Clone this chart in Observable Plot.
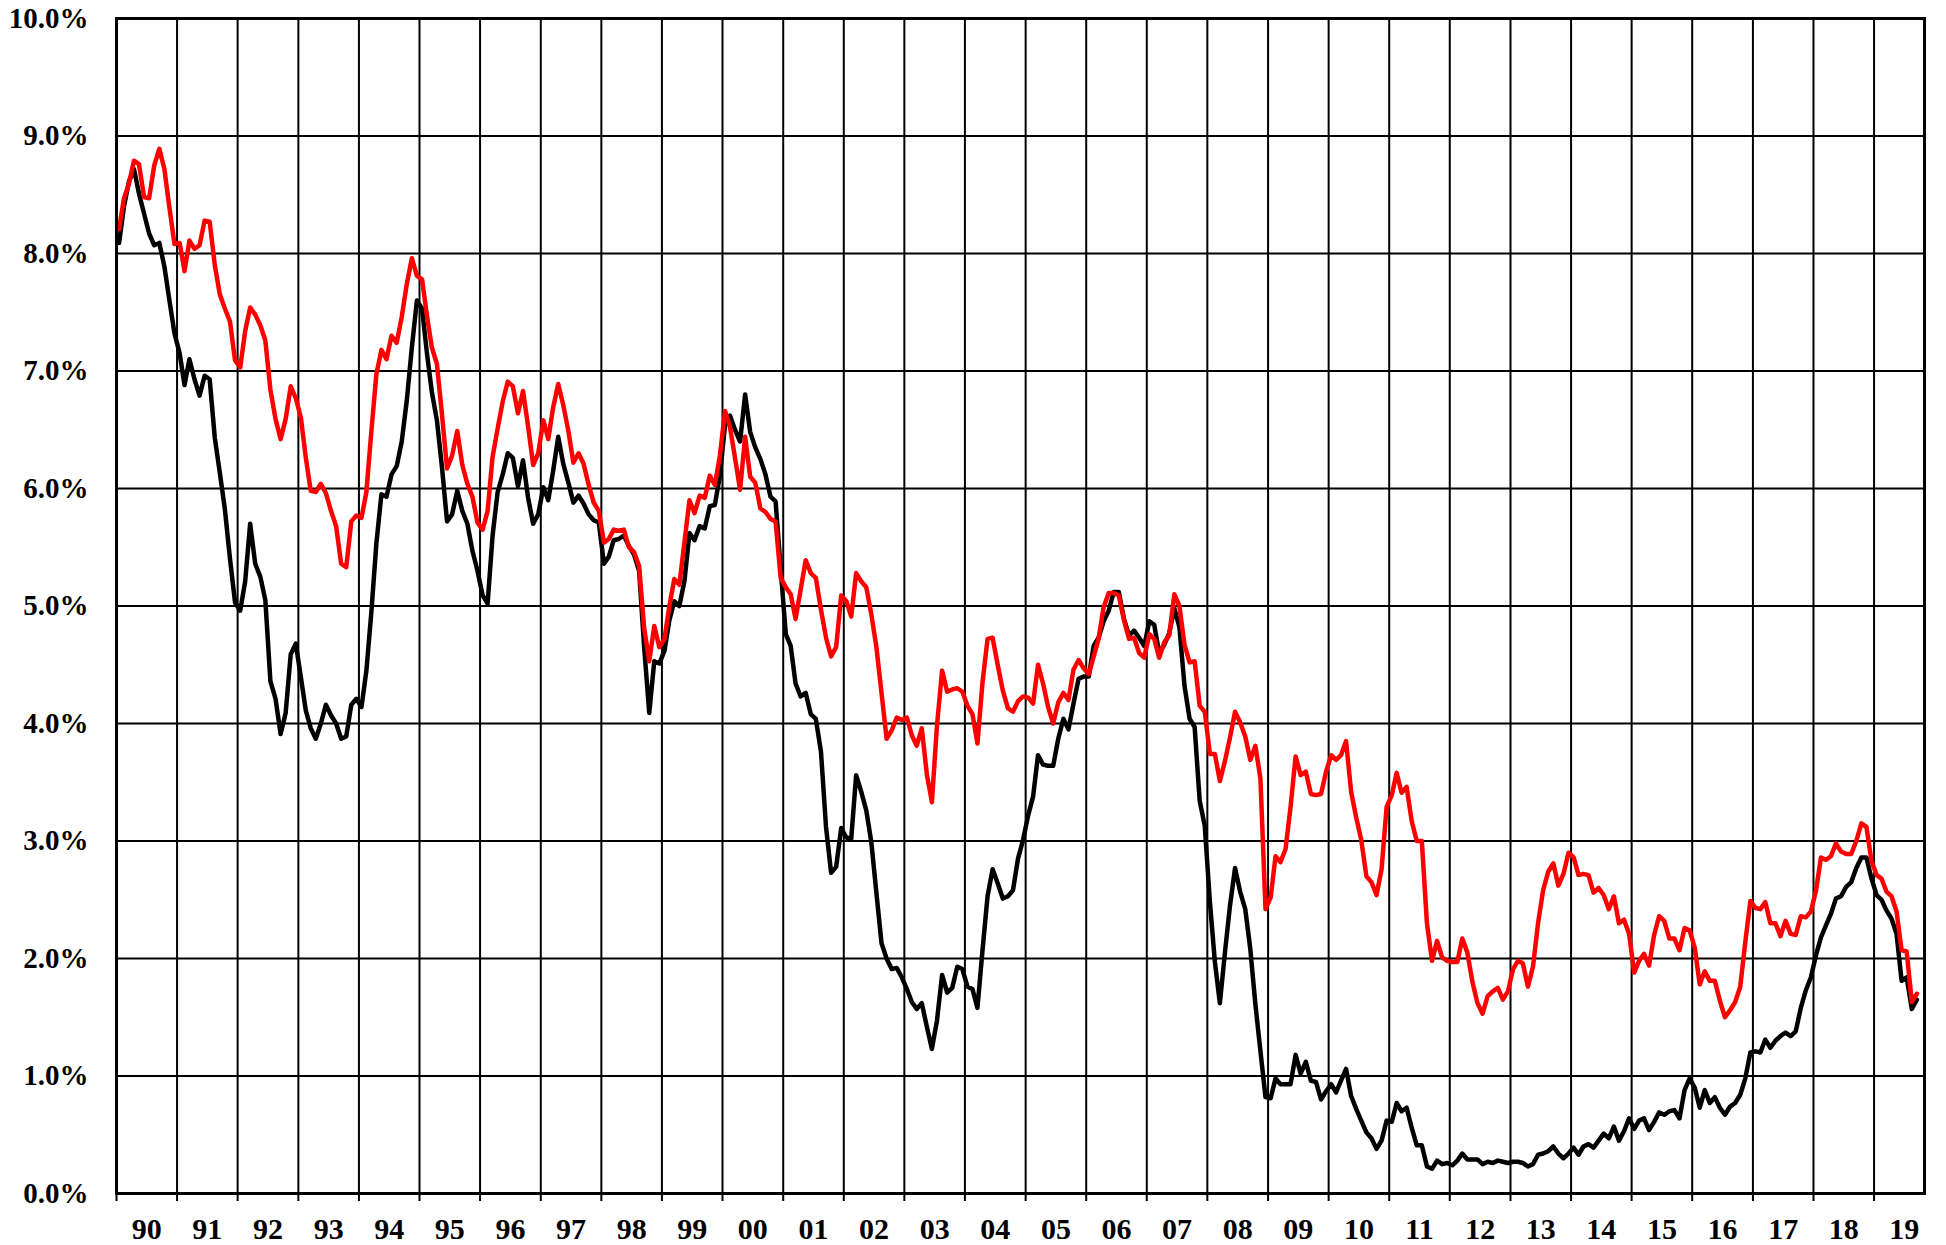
<!DOCTYPE html>
<html><head><meta charset="utf-8">
<script src="https://cdn.jsdelivr.net/npm/d3@7"></script>
<script src="https://cdn.jsdelivr.net/npm/@observablehq/plot@0.6"></script>
<style>html,body{margin:0;padding:0;background:#fff}</style>
</head><body><div id="chart"></div>
<script>
// Monthly yields (%), first value = January 1990, last = September 2019
const startMonth = "1990-01-01";
const endDomain = "2019-11-01";

// black series (2-year)
const twoYear = [
  8.09, 8.40, 8.61, 8.72, 8.51, 8.34, 8.17, 8.07, 8.09, 7.89, 7.60, 7.32,
  7.15, 6.88, 7.10, 6.93, 6.79, 6.96, 6.93, 6.43, 6.13, 5.82, 5.40, 5.03,
  4.96, 5.21, 5.70, 5.36, 5.25, 5.05, 4.36, 4.21, 3.91, 4.09, 4.59, 4.68,
  4.39, 4.11, 3.96, 3.87, 4.00, 4.16, 4.07, 4.00, 3.87, 3.89, 4.16, 4.21,
  4.14, 4.45, 4.94, 5.53, 5.95, 5.93, 6.12, 6.19, 6.40, 6.75, 7.20, 7.60,
  7.53, 7.15, 6.82, 6.58, 6.18, 5.72, 5.78, 5.98, 5.81, 5.70, 5.47, 5.30,
  5.09, 5.02, 5.60, 5.97, 6.12, 6.30, 6.26, 6.02, 6.24, 5.92, 5.70, 5.78,
  6.01, 5.90, 6.15, 6.44, 6.21, 6.05, 5.88, 5.94, 5.87, 5.78, 5.73, 5.71,
  5.36, 5.42, 5.56, 5.57, 5.60, 5.51, 5.44, 5.30, 4.65, 4.09, 4.53, 4.51,
  4.62, 4.88, 5.04, 5.00, 5.21, 5.62, 5.56, 5.68, 5.66, 5.85, 5.86, 6.11,
  6.54, 6.62, 6.50, 6.40, 6.80, 6.48, 6.35, 6.25, 6.12, 5.93, 5.89, 5.32,
  4.76, 4.66, 4.34, 4.23, 4.26, 4.08, 4.04, 3.76, 3.12, 2.73, 2.78, 3.11,
  3.03, 3.02, 3.56, 3.42, 3.26, 2.99, 2.56, 2.13, 2.00, 1.91, 1.92, 1.84,
  1.74, 1.63, 1.57, 1.62, 1.42, 1.23, 1.47, 1.86, 1.71, 1.75, 1.93, 1.91,
  1.76, 1.74, 1.58, 2.07, 2.53, 2.76, 2.64, 2.51, 2.53, 2.58, 2.85, 3.01,
  3.22, 3.38, 3.73, 3.65, 3.64, 3.64, 3.87, 4.04, 3.95, 4.17, 4.38, 4.40,
  4.40, 4.66, 4.73, 4.87, 4.96, 5.12, 5.12, 4.89, 4.75, 4.79, 4.73, 4.66,
  4.87, 4.84, 4.60, 4.67, 4.77, 4.98, 4.82, 4.32, 4.04, 3.97, 3.34, 3.13,
  2.48, 1.97, 1.62, 2.05, 2.45, 2.77, 2.57, 2.42, 2.08, 1.61, 1.21, 0.82,
  0.81, 0.98, 0.93, 0.93, 0.93, 1.18, 1.02, 1.12, 0.96, 0.95, 0.80, 0.87,
  0.93, 0.86, 0.96, 1.06, 0.83, 0.72, 0.62, 0.52, 0.47, 0.38, 0.45, 0.62,
  0.61, 0.77, 0.70, 0.73, 0.56, 0.41, 0.41, 0.23, 0.21, 0.28, 0.25, 0.26,
  0.24, 0.28, 0.34, 0.29, 0.29, 0.29, 0.25, 0.27, 0.26, 0.28, 0.27, 0.26,
  0.27, 0.27, 0.26, 0.23, 0.25, 0.33, 0.34, 0.36, 0.40, 0.34, 0.30, 0.34,
  0.39, 0.33, 0.40, 0.42, 0.39, 0.45, 0.51, 0.47, 0.57, 0.45, 0.53, 0.64,
  0.55, 0.62, 0.64, 0.54, 0.61, 0.69, 0.67, 0.70, 0.71, 0.64, 0.88, 0.98,
  0.90, 0.73, 0.88, 0.77, 0.82, 0.73, 0.67, 0.74, 0.77, 0.84, 0.98, 1.20,
  1.21, 1.20, 1.31, 1.24, 1.30, 1.34, 1.37, 1.34, 1.38, 1.58, 1.73, 1.84,
  2.03, 2.18, 2.28, 2.38, 2.51, 2.53, 2.61, 2.65, 2.77, 2.86, 2.86, 2.68,
  2.54, 2.50, 2.41, 2.34, 2.21, 1.81, 1.84, 1.57, 1.65
];

// red series (10-year)
const tenYear = [
  8.21, 8.47, 8.59, 8.79, 8.76, 8.48, 8.47, 8.75, 8.89, 8.72, 8.39, 8.08,
  8.09, 7.85, 8.11, 8.04, 8.07, 8.28, 8.27, 7.90, 7.65, 7.53, 7.42, 7.09,
  7.03, 7.34, 7.54, 7.48, 7.39, 7.26, 6.84, 6.59, 6.42, 6.59, 6.87, 6.77,
  6.60, 6.26, 5.98, 5.97, 6.04, 5.96, 5.81, 5.68, 5.36, 5.33, 5.72, 5.77,
  5.75, 5.97, 6.48, 6.97, 7.18, 7.10, 7.30, 7.24, 7.46, 7.74, 7.96, 7.81,
  7.78, 7.47, 7.20, 7.06, 6.63, 6.17, 6.28, 6.49, 6.20, 6.04, 5.93, 5.71,
  5.65, 5.81, 6.27, 6.51, 6.74, 6.91, 6.87, 6.64, 6.83, 6.53, 6.20, 6.30,
  6.58, 6.42, 6.69, 6.89, 6.71, 6.49, 6.22, 6.30, 6.21, 6.03, 5.88, 5.81,
  5.54, 5.57, 5.65, 5.64, 5.65, 5.50, 5.46, 5.34, 4.81, 4.53, 4.83, 4.65,
  4.72, 5.00, 5.23, 5.18, 5.54, 5.90, 5.79, 5.94, 5.92, 6.11, 6.03, 6.28,
  6.66, 6.52, 6.26, 5.99, 6.44, 6.10, 6.05, 5.83, 5.80, 5.74, 5.72, 5.24,
  5.16, 5.10, 4.89, 5.14, 5.39, 5.28, 5.24, 4.97, 4.73, 4.57, 4.65, 5.09,
  5.04, 4.91, 5.28, 5.21, 5.16, 4.93, 4.65, 4.26, 3.87, 3.94, 4.05, 4.03,
  4.05, 3.90, 3.81, 3.96, 3.57, 3.33, 3.98, 4.45, 4.27, 4.29, 4.30, 4.27,
  4.15, 4.08, 3.83, 4.35, 4.72, 4.73, 4.50, 4.28, 4.13, 4.10, 4.19, 4.23,
  4.22, 4.17, 4.50, 4.34, 4.14, 4.00, 4.18, 4.26, 4.20, 4.46, 4.54, 4.47,
  4.42, 4.57, 4.72, 4.99, 5.11, 5.11, 5.09, 4.88, 4.72, 4.73, 4.60, 4.56,
  4.76, 4.72, 4.56, 4.69, 4.75, 5.10, 5.00, 4.67, 4.52, 4.53, 4.15, 4.10,
  3.74, 3.74, 3.51, 3.68, 3.88, 4.10, 4.01, 3.89, 3.69, 3.81, 3.53, 2.42,
  2.52, 2.87, 2.82, 2.93, 3.29, 3.72, 3.56, 3.59, 3.40, 3.39, 3.40, 3.59,
  3.73, 3.69, 3.73, 3.85, 3.42, 3.20, 3.01, 2.70, 2.65, 2.54, 2.76, 3.29,
  3.39, 3.58, 3.41, 3.46, 3.17, 3.00, 3.00, 2.30, 1.98, 2.15, 2.01, 1.98,
  1.97, 1.97, 2.17, 2.05, 1.80, 1.62, 1.53, 1.68, 1.72, 1.75, 1.65, 1.72,
  1.91, 1.98, 1.96, 1.76, 1.93, 2.30, 2.58, 2.74, 2.81, 2.62, 2.72, 2.90,
  2.86, 2.71, 2.72, 2.71, 2.56, 2.60, 2.54, 2.42, 2.53, 2.30, 2.33, 2.21,
  1.88, 1.98, 2.04, 1.94, 2.20, 2.36, 2.32, 2.17, 2.17, 2.07, 2.26, 2.24,
  2.09, 1.78, 1.89, 1.81, 1.81, 1.64, 1.50, 1.56, 1.63, 1.76, 2.14, 2.49,
  2.43, 2.42, 2.48, 2.30, 2.30, 2.19, 2.32, 2.21, 2.20, 2.36, 2.35, 2.40,
  2.58, 2.86, 2.84, 2.87, 2.98, 2.91, 2.89, 2.89, 3.00, 3.15, 3.12, 2.83,
  2.71, 2.68, 2.57, 2.53, 2.40, 2.07, 2.06, 1.63, 1.70
];

const yTicks = [0, 1, 2, 3, 4, 5, 6, 7, 8, 9, 10];

const start = new Date(startMonth);
const end = new Date(endDomain);
const midMonth = i => {
  const a = d3.utcMonth.offset(start, i), b = d3.utcMonth.offset(start, i + 1);
  return new Date((+a + +b) / 2);
};
const twoRows = twoYear.map((v, i) => ({date: midMonth(i), value: v}));
const tenRows = tenYear.map((v, i) => ({date: midMonth(i), value: v}));

const yearStarts = d3.utcYears(start, d3.utcYear.offset(start, 30));
const yearMids = yearStarts.map(d => new Date((+d + +d3.utcYear.offset(d, 1)) / 2));

const chart = Plot.plot({
  width: 1946,
  height: 1245,
  marginLeft: 116,
  marginRight: 22,
  marginTop: 18,
  marginBottom: 52,
  style: {fontFamily: "'Liberation Serif','Times New Roman',serif", background: "#fff", color: "#000", overflow: "visible"},
  x: {type: "utc", domain: [start, end], label: null},
  y: {domain: [0, 10], label: null},
  marks: [
    Plot.ruleY(yTicks, {stroke: "#000", strokeWidth: 2}),
    Plot.ruleX(yearStarts, {stroke: "#000", strokeWidth: 2}),
    Plot.axisX(yearStarts, {tickSize: 8, strokeWidth: 2, tickFormat: () => "", label: null}),
    Plot.axisX(yearMids, {tickSize: 0, tickPadding: 24, tickFormat: d3.utcFormat("%y"), fontSize: 30, fontWeight: "bold", label: null}),
    Plot.axisY(yTicks, {tickSize: 0, tickPadding: 28, tickFormat: d => d.toFixed(1) + "%", fontSize: 29, fontWeight: "bold", label: null}),
    Plot.lineY(twoRows, {x: "date", y: "value", stroke: "#000", strokeWidth: 4.5}),
    Plot.lineY(tenRows, {x: "date", y: "value", stroke: "#ff0000", strokeWidth: 4.5}),
    Plot.frame({stroke: "#000", strokeWidth: 3})
  ]
});
document.getElementById("chart").appendChild(chart);
</script>
</body></html>
